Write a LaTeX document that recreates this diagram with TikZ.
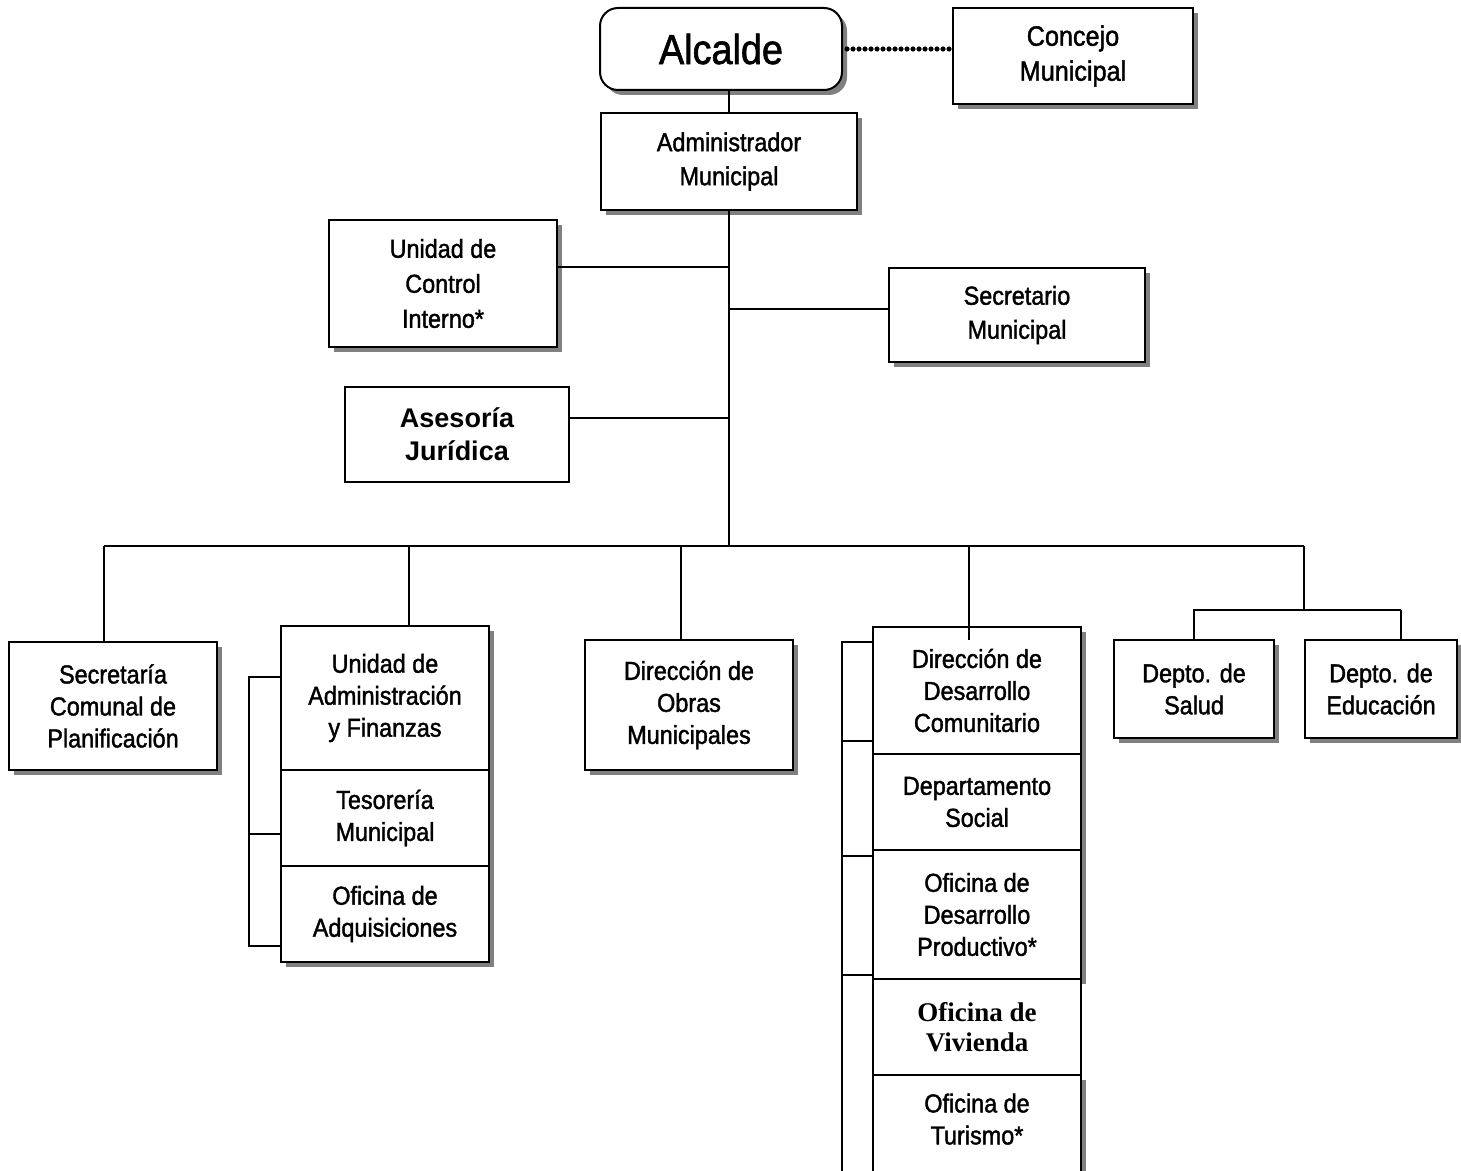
\documentclass[tikz,border=0pt]{standalone}
\usepackage{fontspec}
\setmainfont{Liberation Sans}[FakeStretch=0.9, FakeBold=1.5]
\newfontfamily\widesans{Liberation Sans}
\newfontfamily\serifbold{Liberation Serif}
\usetikzlibrary{positioning,shadows}

\tikzset{
	box/.style={draw, line width=1pt, fill=white, outer sep=0pt, inner sep=0pt, align=center, font=\fontsize{13}{16}\selectfont},
	boxsh/.style={box, drop shadow={shadow xshift=2.5pt, shadow yshift=-2.5pt, fill=black!50, opacity=1}},
	link/.style={line width=1pt},
	chain/.style={line width=2.6pt, line cap=round, dash pattern=on 0pt off 3pt},
}

\begin{document}
\begin{tikzpicture}[x=0.5pt, y=-0.5pt]
	
	\clip (0,0) rectangle (1461,1171);
	
	\node[boxsh, rounded corners=9pt, minimum width=121pt, minimum height=41pt, font=\fontsize{21}{25}\selectfont] (alcalde) at (721,49) {Alcalde};
	\node[boxsh, minimum width=120pt, minimum height=48pt, font=\fontsize{14}{17.5}\selectfont] (concejo) at (1073,56) {Concejo\\Municipal};
	\node[boxsh, minimum width=128pt, minimum height=48.5pt, font=\fontsize{13}{17}\selectfont] (admin) at (729,161.5) {Administrador\\Municipal};
	
	\node[boxsh, minimum width=114pt, minimum height=63.5pt, font=\fontsize{13}{17.5}\selectfont] (control) at (443,283.5) {Unidad de\\Control\\Interno*};
	\node[boxsh, minimum width=128pt, minimum height=47pt, font=\fontsize{13}{17}\selectfont] (secretario) at (1017,315) {Secretario\\Municipal};
	\node[box, minimum width=112pt, minimum height=47.5pt, font=\widesans\bfseries\fontsize{13.5}{16.5}\selectfont] (asesoria) at (457,434.5) {Asesoría\\Jurídica};
	
	\node[boxsh, minimum width=104pt, minimum height=64pt] (secplan) at (113,706) {Secretaría\\Comunal de\\Planificación};
	
	\node[boxsh, minimum width=104pt, minimum height=72pt] (uaf) at (385,698) {Unidad de\\Administración\\y Finanzas};
	\node[boxsh, minimum width=104pt, minimum height=48pt, below=0pt of uaf] (tesoreria) {Tesorería\\Municipal};
	\node[boxsh, minimum width=104pt, minimum height=48pt, below=0pt of tesoreria] (adquis) {Oficina de\\Adquisiciones};
	
	\node[boxsh, minimum width=104pt, minimum height=65pt] (obras) at (689,705) {Dirección de\\Obras\\Municipales};
	
	\node[boxsh, minimum width=104pt, minimum height=63.5pt] (dideco) at (977,690.5) {Dirección de\\Desarrollo\\Comunitario};
	\node[boxsh, minimum width=104pt, minimum height=48pt, below=0pt of dideco] (social) {Departamento\\Social};
	\node[boxsh, minimum width=104pt, minimum height=64.5pt, below=0pt of social] (productivo) {Oficina de\\Desarrollo\\Productivo*};
	\node[box, minimum width=104pt, minimum height=48pt, below=0pt of productivo, font=\serifbold\bfseries\fontsize{13.5}{15}\selectfont] (vivienda) {Oficina de\\Vivienda};
	\node[boxsh, minimum width=104pt, minimum height=60pt, below=0pt of vivienda] (turismo) {Oficina de\\Turismo*\\~};
	
	\node[boxsh, minimum width=80pt, minimum height=49pt] (salud) at (1194,689) {Depto. de\\Salud};
	\node[boxsh, minimum width=76pt, minimum height=49pt] (educacion) at (1381,689) {Depto. de\\Educación};
	
	\coordinate (hub) at (729,546);
	\coordinate (c1) at (729,267);
	\coordinate (c2) at (729,309);
	\coordinate (c3) at (729,418);
	\coordinate (b1) at (104,546);
	\coordinate (b2) at (409,546);
	\coordinate (b3) at (681,546);
	\coordinate (b4) at (969,546);
	\coordinate (b5) at (1304,546);
	\coordinate (s0) at (1304,610);
	\coordinate (s1) at (1401,610);
	\coordinate (k1) at (249,677);
	\coordinate (k2) at (249,834);
	\coordinate (k3) at (249,946);
	\coordinate (d1) at (842,642);
	\coordinate (d2) at (842,741);
	\coordinate (d3) at (842,856);
	\coordinate (d4) at (842,975);
	\coordinate (d5) at (842,1190);
	
	\draw[chain] ([xshift=2.5pt]alcalde.east) -- (alcalde.east -| concejo.west);
	\draw[link] (admin.north) -- (admin.north |- alcalde.south);
	\draw[link] (admin.south) -- (hub);
	\draw[link] (c1) -- (c1 -| control.east);
	\draw[link] (c2) -- (c2 -| secretario.west);
	\draw[link] (c3) -- (c3 -| asesoria.east);
	
	\draw[link] (b1) -- (b5);
	\draw[link] (b1) -- (b1 |- secplan.north);
	\draw[link] (b2) -- (b2 |- uaf.north);
	\draw[link] (b3) -- (b3 |- obras.north);
	\draw[link] (b4) -- ([yshift=-6.5pt]b4 |- dideco.north);
	\draw[link] (b5) -- (s0);
	\draw[link] (salud.north) |- (s1);
	\draw[link] (s1) -- (s1 |- educacion.north);
	
	\draw[link] (k1 -| uaf.west) -- (k1) -- (k3) -- (k3 -| uaf.west);
	\draw[link] (k2) -- (k2 -| uaf.west);
	
	\draw[link] (d1 -| dideco.west) -- (d1) -- (d5);
	\draw[link] (d2) -- (d2 -| dideco.west);
	\draw[link] (d3) -- (d3 -| dideco.west);
	\draw[link] (d4) -- (d4 -| dideco.west);
	
\end{tikzpicture}
\end{document}
